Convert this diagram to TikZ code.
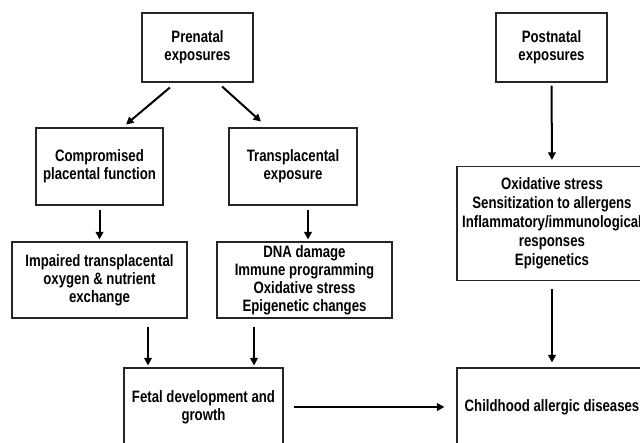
\documentclass[tikz,border=0pt]{standalone}
\usepackage{fontspec}
\setmainfont[FakeStretch=0.8]{Liberation Sans}
\usetikzlibrary{arrows.meta}

\begin{document}
\begin{tikzpicture}[x=1pt, y=-1pt,
        flow/.style={line width=2pt, -{Triangle[length=7.5pt, width=7.5pt]}}
    ]
                \useasboundingbox (0,0) rectangle (640,442);
                \clip (0,0) rectangle (640,442);

                \begin{scope}[
                        every node/.style={draw=black!85, line width=1.1pt, align=center,
                            inner sep=0pt, font=\bfseries\fontsize{16.5}{18}\selectfont}
                    ]

                    \node[minimum width=111pt, minimum height=69pt] (pre) at (197.5,47.5) {Prenatal\\exposures};
                    \node[minimum width=111pt, minimum height=69pt] (post) at (551.5,47.5) {Postnatal\\exposures};

                    \node[minimum width=127pt, minimum height=77pt] (comp) at (99.5,166.5) {Compromised\\placental function};
                    \node[minimum width=128pt, minimum height=77pt] (trans) at (293,166.5) {Transplacental\\exposure};
                    \node[minimum width=190pt, minimum height=114pt, font=\bfseries\fontsize{16.5}{19}\selectfont] (ox) at (552,223.5) {Oxidative stress\\Sensitization to allergens\\Inflammatory/immunological\\responses\\Epigenetics};

                    \node[minimum width=175pt, minimum height=76pt] (imp) at (99.5,280) {Impaired transplacental\\oxygen \& nutrient\\exchange};
                    \node[minimum width=175pt, minimum height=76pt] (dna) at (304.5,280) {DNA damage\\Immune programming\\Oxidative stress\\Epigenetic changes};

                    \node[minimum width=159pt, minimum height=78pt] (fetal) at (203.5,407) {Fetal development and\\growth};
                    \node[minimum width=190pt, minimum height=78pt] (child) at (552,407) {Childhood allergic diseases};
                \end{scope}

                \draw[flow, shorten <=7.7pt, shorten >=4.6pt] ([xshift=-21.7pt]pre.south) -- ([xshift=23pt]comp.north);
                \draw[flow, shorten <=5.9pt, shorten >=8.8pt] ([xshift=20.2pt]pre.south) -- ([xshift=-25.5pt]trans.north);

                \draw[flow, shorten <=4pt, shorten >=2pt] (comp.south) -- (imp.north);
                \draw[flow, shorten <=4pt, shorten >=2pt] ([xshift=15pt]trans.south) -- ([xshift=3.5pt]dna.north);

                \draw[flow, shorten <=8pt, shorten >=2pt] ([xshift=48.5pt]imp.south) -- ([xshift=-55.5pt]fetal.north);
                \draw[flow, shorten <=8pt, shorten >=2pt] ([xshift=-50.5pt]dna.south) -- ([xshift=50.5pt]fetal.north);

                \draw[flow, shorten <=10pt, shorten >=12pt] (fetal.east) -- (child.west);

                \draw[flow, shorten <=3pt, shorten >=6pt] (post.south) -- (ox.north);
                \draw[flow, shorten <=8pt, shorten >=5pt] (ox.south) -- (child.north);
            \end{tikzpicture}
\end{document}
